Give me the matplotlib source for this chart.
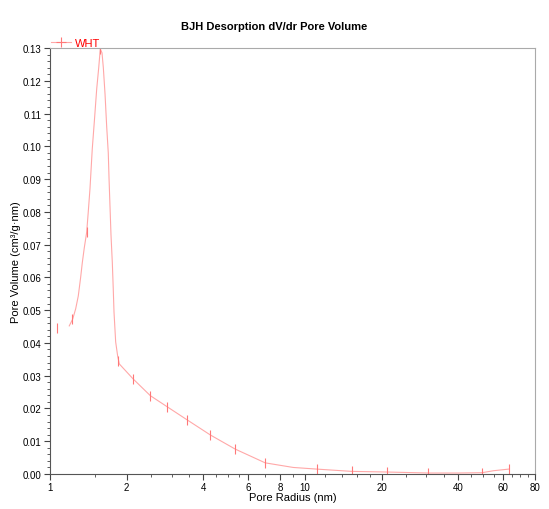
import matplotlib
matplotlib.use("Agg")
import matplotlib.pyplot as plt
from matplotlib.ticker import FixedLocator, NullFormatter, MultipleLocator, FormatStrFormatter

plt.rcParams["font.family"] = ["Liberation Sans", "DejaVu Sans"]

# BJH desorption dV/dr
# traced curve (starts after the lone first point)
curve_radius = [1.190, 1.228, 1.261, 1.291, 1.319, 1.339, 1.363, 1.393, 1.413, 1.435,
                1.465, 1.495, 1.525, 1.553, 1.575, 1.600, 1.619, 1.644, 1.669, 1.693,
                1.705, 1.720, 1.735, 1.756, 1.770, 1.783, 1.810, 1.843, 1.870, 2.12,
                2.476, 2.885, 3.455, 4.26, 5.33, 6.99, 9.0, 11.12, 15.27, 21.1,
                30.5, 40.0, 49.6, 55.0, 63.2]
curve_volume = [0.0452, 0.0473, 0.0504, 0.0543, 0.0600, 0.0645, 0.0690, 0.0738, 0.0800, 0.0870,
                0.0992, 0.1083, 0.1175, 0.1240, 0.1297, 0.1285, 0.1240, 0.1160, 0.1060, 0.0980,
                0.0900, 0.0815, 0.0730, 0.0645, 0.0570, 0.0494, 0.0403, 0.0360, 0.0336, 0.0290,
                0.0239, 0.0205, 0.0165, 0.0119, 0.0076, 0.0034, 0.0020, 0.0015, 0.0008, 0.0006,
                0.0003, 0.0003, 0.0004, 0.0010, 0.0015]
# measured points (marked)
point_radius = [1.062, 1.22, 1.393, 1.575, 1.853, 2.12, 2.476, 2.885, 3.455, 4.26,
                5.33, 6.99, 11.12, 15.27, 21.1, 30.5, 49.6, 63.2]
point_volume = [0.0446, 0.0473, 0.0738, 0.1297, 0.0346, 0.0290, 0.0239, 0.0205, 0.0165, 0.0119,
                0.0076, 0.0034, 0.0015, 0.0008, 0.0006, 0.0003, 0.0004, 0.0015]
series_name = "WHT"
x_major = [1, 2, 4, 6, 8, 10, 20, 40, 60, 80]
x_minor = [1.5, 2.5, 3, 3.5, 4.5, 5, 5.5, 7, 9, 12, 14, 16, 18, 25, 30, 35, 45, 50, 55, 65, 70, 75]

line_color = "#ffa8a8"
mark_color = "#ff7878"

fig = plt.figure(figsize=(5.49, 5.10), dpi=100)
ax = fig.add_axes([50 / 549, 35 / 510, 485 / 549, 426 / 510])

ax.plot(curve_radius, curve_volume, color=line_color, lw=0.8)
ax.plot(point_radius, point_volume, ls="none", marker="|", ms=7, mew=0.8, color=mark_color)
ax.plot([], [], color=line_color, lw=0.8, marker="+", ms=7, mew=0.8,
        mec=mark_color, label=series_name)

ax.set_xscale("log")
ax.set_xlim(1, 80)
ax.set_ylim(0, 0.13)
ax.xaxis.set_major_locator(FixedLocator(x_major))
ax.xaxis.set_major_formatter(FormatStrFormatter("%g"))
ax.xaxis.set_minor_locator(FixedLocator(x_minor))
ax.xaxis.set_minor_formatter(NullFormatter())
ax.yaxis.set_major_locator(MultipleLocator(0.01))
ax.yaxis.set_minor_locator(MultipleLocator(0.002))
ax.yaxis.set_major_formatter(FormatStrFormatter("%.2f"))

ax.tick_params(which="major", length=4, width=0.8, labelsize=7, color="#444444", pad=2)
ax.tick_params(which="minor", length=2.5, width=0.6, color="#444444")
for s in ["left", "bottom"]:
    ax.spines[s].set_color("#555555")
    ax.spines[s].set_linewidth(0.8)
for s in ["top", "right"]:
    ax.spines[s].set_color("#aaaaaa")
    ax.spines[s].set_linewidth(0.8)

ax.set_xlabel("Pore Radius (nm)", fontsize=8, labelpad=0)
ax.set_ylabel("Pore Volume (cm³/g·nm)", fontsize=8, labelpad=1)
fig.text(0.5, 0.947, "BJH Desorption dV/dr Pore Volume", ha="center", va="center",
         fontsize=8, fontweight="bold")

leg = ax.legend(loc="lower left", bbox_to_anchor=(-0.012, 0.985), frameon=False,
                fontsize=8, handlelength=1.8, handletextpad=0.4, borderpad=0.1)
for t in leg.get_texts():
    t.set_color("red")

fig.savefig("out.png", dpi=100)
